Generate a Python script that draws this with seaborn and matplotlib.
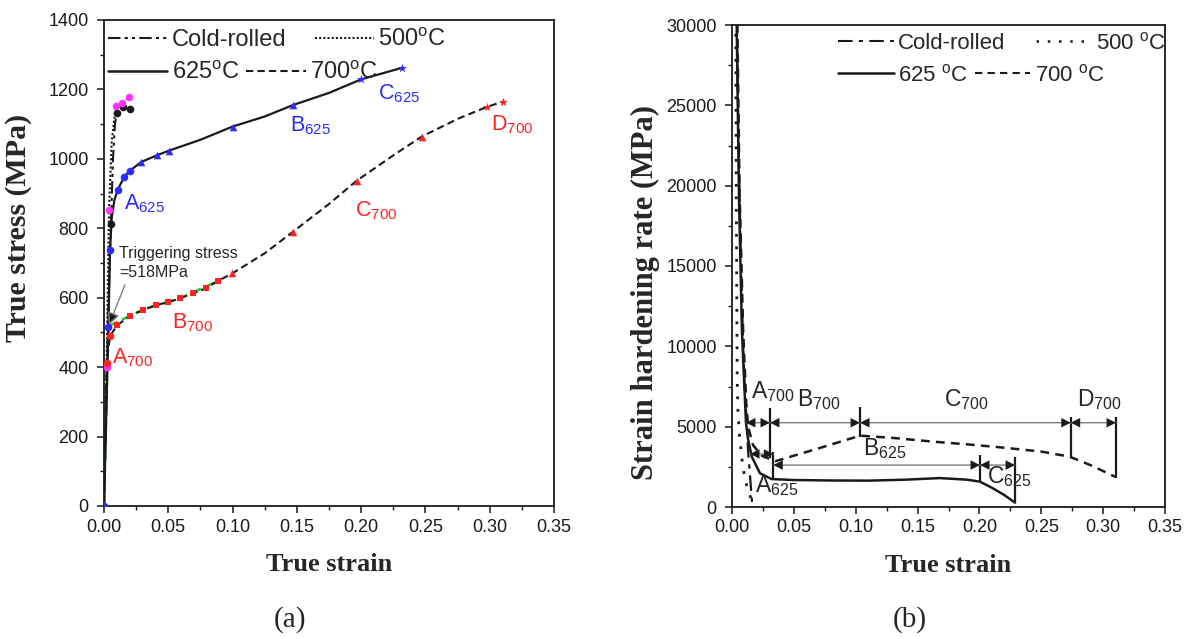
import numpy as np
import pandas as pd
import seaborn as sns
import matplotlib.pyplot as plt
from matplotlib.lines import Line2D
from matplotlib.ticker import MultipleLocator

# ---------------- data: (a) true stress vs true strain ----------------
cr_strain = [0, 0.002, 0.0035, 0.0054, 0.007, 0.0085, 0.0099, 0.015, 0.0202]
cr_stress = [0, 330, 580, 812, 1000, 1100, 1131, 1148, 1144]
cr_mk_strain = [0.0054, 0.0099, 0.015, 0.0202]
cr_mk_stress = [812, 1131, 1148, 1144]

t500_strain = [0, 0.002, 0.0039, 0.006, 0.0091, 0.0138, 0.0197]
t500_stress = [0, 400, 853, 1050, 1152, 1162, 1177]
t500_mk_strain = [0.002, 0.0039, 0.0091, 0.0138, 0.0197]
t500_mk_stress = [400, 853, 1152, 1162, 1177]

t625_strain = [0, 0.002, 0.0034, 0.0047, 0.006, 0.008, 0.0106, 0.0158, 0.0202, 0.029,
               0.041, 0.0508, 0.075, 0.1, 0.125, 0.147, 0.175, 0.2, 0.2315]
t625_stress = [0, 300, 516, 738, 830, 880, 910, 949, 966, 991,
               1010, 1024, 1055, 1093, 1122, 1155, 1190, 1229, 1262]
a625_strain = [0, 0.0034, 0.0047, 0.0106, 0.0158, 0.0202]
a625_stress = [0, 516, 738, 910, 949, 966]
b625_strain = [0.029, 0.041, 0.0508, 0.1, 0.147]
b625_stress = [991, 1010, 1024, 1093, 1155]
c625_strain = [0.2, 0.2315]
c625_stress = [1229, 1262]

t700_strain = [0, 0.001, 0.002, 0.0047, 0.0104, 0.0202, 0.0306, 0.0404, 0.05, 0.059, 0.0695,
               0.079, 0.089, 0.0998, 0.125, 0.147, 0.175, 0.1965, 0.225, 0.247, 0.275, 0.298, 0.3106]
t700_stress = [0, 200, 413, 490, 521, 548, 565, 579, 587, 598, 613,
               627, 649, 670, 728, 790, 870, 937, 1010, 1064, 1115, 1150, 1165]
a700_strain = [0.002, 0.0047]
a700_stress = [413, 490]
b700_strain = [0.0104, 0.0202, 0.0306, 0.0404, 0.05, 0.059, 0.0695, 0.079, 0.089]
b700_stress = [521, 548, 565, 579, 587, 598, 613, 627, 649]
c700_strain = [0.0998, 0.147, 0.1965, 0.247]
c700_stress = [670, 790, 937, 1064]
d700_strain = [0.298, 0.3106]
d700_stress = [1150, 1165]

fit_strain = [0, 0.0034, 0.03, 0.06, 0.09]
fit_stress = [0, 518, 565, 600, 650]

# ---------------- data: (b) strain hardening rate ----------------
hcr_strain = [0.0038, 0.005, 0.007, 0.009, 0.0105, 0.012, 0.013, 0.015, 0.0165]
hcr_rate = [31000, 24000, 16000, 10000, 7000, 5200, 3500, 1500, 0]

h500_strain = [0.003, 0.0035, 0.0042, 0.0048, 0.006, 0.008, 0.0105, 0.014, 0.017, 0.019]
h500_rate = [31000, 19000, 8000, 6000, 4500, 3000, 1700, 800, 250, 0]

h625_strain = [0.0036, 0.0057, 0.008, 0.0113, 0.013, 0.016, 0.0226, 0.032, 0.05, 0.08,
               0.11, 0.14, 0.168, 0.19, 0.2005, 0.21, 0.22, 0.2288]
h625_rate = [31000, 19100, 11000, 5230, 4200, 3130, 2100, 1740, 1680, 1650,
             1640, 1700, 1800, 1700, 1575, 1200, 750, 270]

h700_strain = [0.0042, 0.006, 0.009, 0.0115, 0.013, 0.017, 0.024, 0.035, 0.07, 0.1035,
               0.13, 0.163, 0.19, 0.2167, 0.25, 0.273, 0.29, 0.3096]
h700_rate = [31000, 20000, 11000, 6500, 5000, 3850, 3200, 2850, 3650, 4440,
             4300, 4065, 3900, 3715, 3450, 3130, 2600, 1885]

# stage boundaries in (b)
bar_x = [0.0307, 0.1035, 0.2738, 0.3104, 0.0334, 0.2005, 0.2288]
bar_lo = [3050, 4375, 3130, 1800, 1740, 1575, 270]
bar_hi = [6160, 6240, 5620, 5620, 3440, 3240, 3130]
arrow_x0 = [0.0113, 0.0307, 0.1035, 0.2738, 0.0146, 0.0334, 0.2005]
arrow_x1 = [0.0307, 0.1035, 0.2738, 0.3104, 0.0334, 0.2005, 0.2288]
arrow_y = [5245, 5245, 5245, 5245, 3300, 2610, 2610]

# ---------------- style ----------------
sns.set_theme(style="ticks")
plt.rcParams['font.family'] = ['Liberation Sans', 'DejaVu Sans']
plt.rcParams['mathtext.fontset'] = 'custom'
plt.rcParams['mathtext.rm'] = 'Liberation Sans'
plt.rcParams['mathtext.default'] = 'regular'

BLUE = '#2b2bff'
RED = '#ff2222'
MAG = '#ff33ff'
GREEN = '#22cc22'

fig = plt.figure(figsize=(11.91, 6.39), dpi=100)
fig.patch.set_facecolor('white')
ax1 = fig.add_axes([104 / 1191, 133 / 639, 450 / 1191, 486 / 639])
ax2 = fig.add_axes([732 / 1191, 132 / 639, 433 / 1191, 482 / 639])

ls_cr_a = (0, (6, 2, 1.5, 2, 1.5, 2))
ls_500_a = (0, (1, 1))
ls_700_a = (0, (3.5, 2))

# ----- panel (a) -----
sns.lineplot(x=fit_strain, y=fit_stress, ax=ax1, color=GREEN, lw=1.8,
             linestyle=(0, (4, 2)), sort=False, estimator=None, zorder=2)
sns.lineplot(x=cr_strain, y=cr_stress, ax=ax1, color='k', lw=1.5,
             linestyle=ls_cr_a, sort=False, estimator=None)
sns.lineplot(x=t500_strain, y=t500_stress, ax=ax1, color='k', lw=1.5,
             linestyle=ls_500_a, sort=False, estimator=None)
sns.lineplot(x=t625_strain, y=t625_stress, ax=ax1, color='k', lw=1.6,
             sort=False, estimator=None)
sns.lineplot(x=t700_strain, y=t700_stress, ax=ax1, color='k', lw=1.5,
             linestyle=ls_700_a, sort=False, estimator=None)

mk = dict(ax=ax1, linewidth=0, zorder=4, legend=False)
sns.scatterplot(x=cr_mk_strain, y=cr_mk_stress, color='k', marker='o', s=30, **mk)
sns.scatterplot(x=t500_mk_strain, y=t500_mk_stress, color=MAG, marker='o', s=30, **mk)
sns.scatterplot(x=a625_strain, y=a625_stress, color=BLUE, marker='o', s=30, **mk)
sns.scatterplot(x=b625_strain, y=b625_stress, color=BLUE, marker='^', s=30, **mk)
sns.scatterplot(x=c625_strain, y=c625_stress, color=BLUE, marker='*', s=45, **mk)
sns.scatterplot(x=a700_strain, y=a700_stress, color=RED, marker='o', s=30, **mk)
sns.scatterplot(x=b700_strain, y=b700_stress, color=RED, marker='s', s=18, **mk)
sns.scatterplot(x=c700_strain, y=c700_stress, color=RED, marker='^', s=30, **mk)
sns.scatterplot(x=d700_strain, y=d700_stress, color=RED, marker='*', s=45, **mk)

ax1.set_xlim(0, 0.35)
ax1.set_ylim(0, 1400)
ax1.xaxis.set_major_locator(MultipleLocator(0.05))
ax1.xaxis.set_minor_locator(MultipleLocator(0.025))
ax1.yaxis.set_major_locator(MultipleLocator(200))
ax1.yaxis.set_minor_locator(MultipleLocator(100))
ax1.set_xticklabels([f"{v:.2f}" for v in ax1.get_xticks()])

lab_a = 15.5
ax1.text(0.0156, 853, 'A$_{625}$', color=BLUE, fontsize=lab_a)
ax1.text(0.145, 1078, 'B$_{625}$', color=BLUE, fontsize=lab_a)
ax1.text(0.2134, 1170, 'C$_{625}$', color=BLUE, fontsize=lab_a)
ax1.text(0.006, 411, 'A$_{700}$', color=RED, fontsize=lab_a)
ax1.text(0.0526, 512, 'B$_{700}$', color=RED, fontsize=lab_a)
ax1.text(0.195, 833, 'C$_{700}$', color=RED, fontsize=lab_a)
ax1.text(0.301, 1083, 'D$_{700}$', color=RED, fontsize=lab_a)
ax1.text(0.0118, 750, 'Triggering stress\n=518MPa', fontsize=11.5, va='top',
         linespacing=1.35)
ax1.annotate('', xy=(0.0039, 522), xytext=(0.0163, 637),
             arrowprops=dict(arrowstyle='-|>', ec='0.5', fc='k', lw=1.0,
                             mutation_scale=18, shrinkA=0, shrinkB=0))

ax1.set_xlabel('True strain')
ax1.set_ylabel('True stress (MPa)')

# ----- panel (b) -----
ls_cr_b = (0, (7, 3, 2, 3))
ls_500_b = (0, (1, 3.5))
ls_700_b = (0, (3.5, 2.5))
sns.lineplot(x=hcr_strain, y=hcr_rate, ax=ax2, color='k', lw=1.6,
             linestyle=ls_cr_b, sort=False, estimator=None)
sns.lineplot(x=h500_strain, y=h500_rate, ax=ax2, color='k', lw=2.0,
             linestyle=ls_500_b, sort=False, estimator=None)
sns.lineplot(x=h625_strain, y=h625_rate, ax=ax2, color='k', lw=1.8,
             sort=False, estimator=None)
sns.lineplot(x=h700_strain, y=h700_rate, ax=ax2, color='k', lw=1.8,
             linestyle=ls_700_b, sort=False, estimator=None)

ax2.vlines(bar_x, bar_lo, bar_hi, color='k', lw=1.6)
for x0, x1, y in zip(arrow_x0, arrow_x1, arrow_y):
    # grey shaft
    ax2.annotate('', xy=(x1, y), xytext=(x0, y),
                 arrowprops=dict(arrowstyle='-', color='0.45', lw=0.9,
                                 shrinkA=0, shrinkB=0))
    # solid black heads
    ax2.annotate('', xy=(x1, y), xytext=(x0, y),
                 arrowprops=dict(arrowstyle='<|-|>', color='k', lw=0.01,
                                 mutation_scale=17, shrinkA=0, shrinkB=0))

lab_b = 16.5
ax2.text(0.0155, 6780, 'A$_{700}$', fontsize=lab_b)
ax2.text(0.0523, 6280, 'B$_{700}$', fontsize=lab_b)
ax2.text(0.171, 6280, 'C$_{700}$', fontsize=lab_b)
ax2.text(0.2786, 6280, 'D$_{700}$', fontsize=lab_b)
ax2.text(0.106, 3240, 'B$_{625}$', fontsize=lab_b)
ax2.text(0.206, 1490, 'C$_{625}$', fontsize=lab_b)
ax2.text(0.0186, 950, 'A$_{625}$', fontsize=lab_b)

ax2.set_xlim(0, 0.35)
ax2.set_ylim(0, 30000)
ax2.xaxis.set_major_locator(MultipleLocator(0.05))
ax2.xaxis.set_minor_locator(MultipleLocator(0.025))
ax2.yaxis.set_major_locator(MultipleLocator(5000))
ax2.yaxis.set_minor_locator(MultipleLocator(2500))
ax2.set_xticklabels([f"{v:.2f}" for v in ax2.get_xticks()])
ax2.set_xlabel('True strain')
ax2.set_ylabel('Strain hardening rate (MPa)')

# ----- common axis styling -----
for ax in (ax1, ax2):
    for sp in ax.spines.values():
        sp.set_visible(True)
        sp.set_linewidth(1.3)
        sp.set_color('k')
    ax.tick_params(which='major', direction='out', length=5, width=1.1,
                   labelsize=13, pad=4, colors='k')
    ax.tick_params(axis='y', which='major', pad=6)
    ax.tick_params(which='minor', direction='out', length=3, width=1.0, colors='k')
    ax.xaxis.label.set_fontfamily('Liberation Serif')
    ax.yaxis.label.set_fontfamily('Liberation Serif')
    ax.xaxis.label.set_fontweight('bold')
    ax.yaxis.label.set_fontweight('bold')
    ax.xaxis.label.set_fontsize(19)
    ax.set_facecolor('white')
ax1.yaxis.label.set_fontsize(21.5)
ax2.yaxis.label.set_fontsize(22)

ax1.xaxis.set_label_coords(0.5, -0.097)
ax2.xaxis.set_label_coords(0.499, -0.097)
ax1.yaxis.set_label_coords(-0.16, 0.572)
ax2.yaxis.set_label_coords(-0.166, 0.446)

# ----- legends (two single-row legends per panel) -----
def add_row(entries, x_px, y_px, colsp, fs):
    handles = [Line2D([], [], color='k', lw=lw, linestyle=ls) for _, ls, lw in entries]
    labels = [t for t, _, _ in entries]
    leg = fig.legend(handles, labels, loc='center left', ncol=len(entries),
                     bbox_to_anchor=(x_px / 1191, 1 - y_px / 639),
                     bbox_transform=fig.transFigure, frameon=False,
                     fontsize=fs, handlelength=2.5, handletextpad=0.2,
                     columnspacing=colsp, borderpad=0, borderaxespad=0)
    return leg

add_row([('Cold-rolled', ls_cr_a, 1.5), ('500$^{o}$C', ls_500_a, 1.5)], 108, 40, 1.2, 17)
add_row([('625$^{o}$C', '-', 1.8), ('700$^{o}$C', ls_700_a, 1.5)], 108, 73, 0.3, 17)
add_row([('Cold-rolled', ls_cr_b, 1.5), ('500 $^{o}$C', ls_500_b, 1.8)], 838, 43, 1.4, 16)
add_row([('625 $^{o}$C', '-', 1.8), ('700 $^{o}$C', ls_700_b, 1.5)], 838, 75, 0.3, 16)

fig.text(290 / 1191, 1 - 620 / 639, '(a)', fontsize=21, family='Liberation Serif',
         ha='center', va='center')
fig.text(910 / 1191, 1 - 620 / 639, '(b)', fontsize=21, family='Liberation Serif',
         ha='center', va='center')

fig.savefig('out.png', dpi=100, facecolor='white')
